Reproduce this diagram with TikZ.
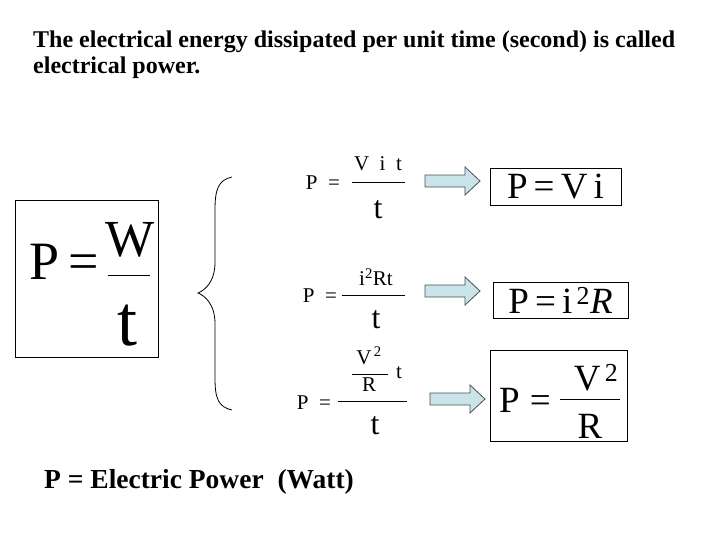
\documentclass[tikz,border=0pt]{standalone}
\usepackage{fontspec}
\setmainfont{Liberation Serif}
\definecolor{arrfill}{RGB}{200,228,232}
\definecolor{arrline}{RGB}{70,80,85}
\begin{document}
\begin{tikzpicture}[x=1pt,y=-1pt,
  t/.style={inner sep=0pt,anchor=center},
  fl/.style={line width=0.8pt},
  bx/.style={draw,line width=0.8pt},
  arr/.style={fill=arrfill,draw=arrline,line width=0.8pt}]
\useasboundingbox[fill=white] (0,0) rectangle (728,546);
\node[t,anchor=west,font=\bfseries\fontsize{24}{28}\selectfont] (title1) at (33,42) {The electrical energy dissipated per unit time (second) is called};
\node[t,anchor=west,font=\bfseries\fontsize{24}{28}\selectfont] (title2) at (33,68) {electrical power.};
% main formula
\draw[bx] (15,200) rectangle (158,357);
\node[t,font=\fontsize{54}{54}\selectfont] (mp) at (64,262) {P\,=};
\node[t,font=\fontsize{52}{52}\selectfont] (mw) at (130,240) {W};
\draw[line width=1pt] (108,275) -- (150,275);
\node[t,font=\fontsize{72}{72}\selectfont] (mt) at (128,326) {t};
% brace
\draw[line width=0.8pt] (232,177) .. controls (218,180) and (215,190) .. (215,210) -- (215,262) .. controls (215,282) and (205,290) .. (198,293) .. controls (205,296) and (215,304) .. (215,324) -- (215,378) .. controls (215,398) and (218,407) .. (232,410);
% row 1
\node[t,font=\fontsize{21}{21}\selectfont] (p1) at (323,183) {P\enspace=};
\draw[fl] (352,182) -- (405,182);
\node[t,font=\fontsize{21}{21}\selectfont] (n1) at (378,164) {V\enspace i\enspace t};
\node[t,font=\fontsize{32}{32}\selectfont] (d1) at (378,210) {t};
\draw[arr] (425,175) -- (465,175) -- (465,167) -- (480,181) -- (465,195) -- (465,187) -- (425,187) -- cycle;
\node[bx,minimum width=131pt,minimum height=37pt,inner sep=0pt,font=\fontsize{37}{37}\selectfont] (r1) at (555.5,186.5) {P\,=\,V\,i};
% row 2
\node[t,font=\fontsize{21}{21}\selectfont] (p2) at (320,296) {P\enspace=};
\draw[fl] (342,295) -- (405,295);
\node[t,font=\fontsize{21}{21}\selectfont] (n2) at (376,277) {i\textsuperscript{2}Rt};
\node[t,font=\fontsize{32}{32}\selectfont] (d2) at (376,320) {t};
\draw[arr] (425,285) -- (465,285) -- (465,277) -- (480,291) -- (465,305) -- (465,297) -- (425,297) -- cycle;
\node[bx,minimum width=135pt,minimum height=36pt,inner sep=0pt,font=\fontsize{37}{37}\selectfont] (r2) at (560.5,300) {P\,=\,i\textsuperscript{\,2}\textit{R}};
% row 3
\node[t,font=\fontsize{21}{21}\selectfont] (p3) at (314,403) {P\enspace=};
\draw[fl] (338,401) -- (407,401);
\node[t,font=\fontsize{21}{21}\selectfont] (v3) at (369,356) {V\textsuperscript{\,2}};
\draw[fl] (352,374) -- (388,374);
\node[t,font=\fontsize{21}{21}\selectfont] (r3) at (369,385) {R};
\node[t,font=\fontsize{21}{21}\selectfont] (t3) at (399,373) {t};
\node[t,font=\fontsize{32}{32}\selectfont] (d3) at (375,426) {t};
\draw[arr] (430,393) -- (470,393) -- (470,385) -- (485,399) -- (470,413) -- (470,405) -- (430,405) -- cycle;
\draw[bx] (490,350) rectangle (627,441);
\node[t,font=\fontsize{37}{37}\selectfont] (pb3) at (525,400) {P\;=};
\draw[fl] (560,399) -- (620,399);
\node[t,font=\fontsize{37}{37}\selectfont] (vb3) at (596,378) {V\textsuperscript{\,2}};
\node[t,font=\fontsize{37}{37}\selectfont] (rb3) at (590,426) {R};
% bottom
\node[t,anchor=west,font=\bfseries\fontsize{27.5}{30}\selectfont] (def) at (44,482) {P = Electric Power~ (Watt)};
\end{tikzpicture}
\end{document}
